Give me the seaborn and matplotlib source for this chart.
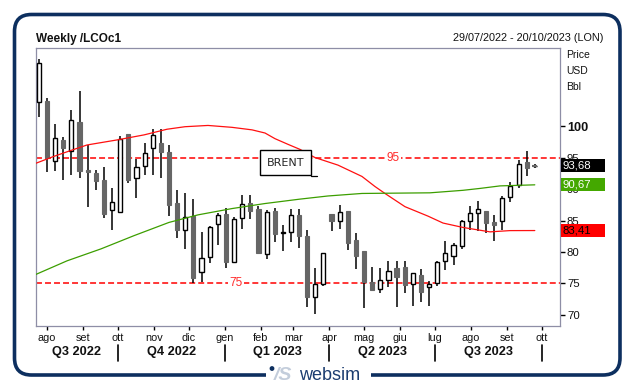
import numpy as np
import pandas as pd
import matplotlib
matplotlib.use('Agg')
import matplotlib.pyplot as plt
import matplotlib.transforms as mtransforms
from matplotlib.patches import FancyBboxPatch, Rectangle, Circle
import seaborn as sns

# weekly Brent candles (week of 25/07/2022 .. week of 25/09/2023)
opens = [103.75, 103.96, 94.39, 97.77, 95.98, 100.63, 93.0, 92.5, 91.4, 86.61,
         86.29, 98.73, 91.69, 93.59, 96.45, 97.25, 95.87, 87.77, 83.54, 85.71,
         76.77, 79.15, 84.44, 86.03, 78.36, 85.34, 87.72, 86.82, 79.63, 86.5,
         83.0, 83.12, 85.87, 82.54, 72.9, 74.86, 86.03, 84.97, 86.5, 81.9,
         80.16, 75.18, 74.07, 75.55, 77.4, 77.56, 74.86, 76.29, 74.39, 75.0,
         78.52, 79.31, 80.95, 84.87, 86.14, 86.5, 84.76, 84.92, 88.79, 90.64,
         94.29, 93.68]
highs = [110.63, 104.39, 100.3, 98.2, 102.5, 105.55, 96.98, 93.0, 93.49, 90.15,
         98.5, 98.73, 94.76, 97.25, 99.47, 99.47, 96.98, 89.84, 89.36, 88.41,
         83.22, 84.12, 86.13, 86.93, 85.5, 89.04, 89.04, 87.35, 86.61, 86.93,
         84.28, 86.82, 86.82, 83.49, 77.4, 79.84, 86.03, 87.46, 86.5, 83.02,
         80.16, 77.56, 77.4, 78.62, 78.62, 78.62, 76.61, 77.3, 75.45, 78.57,
         81.74, 81.37, 85.08, 87.3, 88.15, 86.5, 85.87, 88.94, 91.17, 94.6,
         96.03, 94.0]
lows = [101.48, 92.75, 92.9, 91.5, 92.22, 91.69, 87.19, 89.9, 85.45, 83.49,
        86.29, 91.0, 88.6, 92.22, 92.22, 91.69, 85.76, 82.27, 80.47, 75.02,
        75.18, 78.2, 81.16, 77.51, 78.36, 83.65, 85.29, 79.63, 78.94, 81.64,
        80.21, 81.64, 80.68, 71.32, 70.1, 74.6, 83.38, 83.65, 80.3, 77.3,
        71.16, 73.97, 73.43, 74.5, 71.32, 73.43, 71.48, 72.0, 71.48, 74.6,
        77.14, 77.94, 80.42, 83.49, 83.38, 82.96, 81.8, 83.5, 88.0, 90.11,
        92.07, 93.3]
closes = [109.94, 94.86, 98.04, 96.56, 100.9, 92.9, 92.75, 91.3, 86.08, 87.88,
          97.88, 91.48, 93.44, 95.66, 98.51, 95.92, 87.5, 83.54, 85.5, 75.87,
          79.0, 83.91, 85.87, 78.46, 85.18, 87.56, 86.56, 79.89, 86.29, 82.9,
          83.1, 85.87, 82.59, 72.9, 74.86, 79.84, 84.97, 86.29, 81.48, 79.42,
          75.18, 73.97, 75.55, 76.98, 76.08, 74.76, 76.61, 73.7, 74.87, 78.41,
          79.79, 81.11, 84.87, 86.14, 86.82, 84.66, 84.34, 88.52, 90.5, 93.97,
          93.28, 93.68]

# moving averages (week index, value)
red_weeks = [-0.36, 1.86, 4.32, 5.92, 9.61, 12.93, 15.76, 17.97, 20.8, 23.75,
             26.21, 27.81, 29.04, 30.64, 32.11, 33.96, 36.79, 39.74, 41.34,
             42.57, 45.03, 47.86, 49.71, 52.17, 55.49, 57.95, 61.0]
red_ma = [94.1, 95.2, 96.3, 97.0, 97.8, 98.6, 99.5, 99.9, 100.1, 99.8,
          99.4, 98.9, 98.0, 97.1, 96.3, 95.0, 93.8, 92.0, 90.4,
          89.3, 87.2, 85.7, 84.6, 83.9, 83.2, 83.4, 83.41]
green_weeks = [-0.36, 3.46, 7.64, 11.7, 16.0, 19.57, 23.75, 27.81, 32.11,
               35.56, 39.74, 48.1, 52.17, 54.26, 56.72, 61.0]
green_ma = [76.45, 78.6, 80.5, 82.6, 84.7, 85.9, 86.9, 87.7, 88.4,
            88.9, 89.3, 89.4, 89.8, 90.1, 90.5, 90.67]

levels = [95, 75]
last_values = [93.68, 90.67, 83.41]
last_colors = ['#000000', '#44a800', '#ff0000']
last_text = ['white', 'white', 'black']

month_labels = ['ago', 'set', 'ott', 'nov', 'dic', 'gen', 'feb', 'mar', 'apr',
                'mag', 'giu', 'lug', 'ago', 'set', 'ott']
month_starts = pd.date_range('2022-08-01', '2023-10-01', freq='MS')
quarter_starts = pd.to_datetime(['2022-07-01', '2022-10-01', '2023-01-01',
                                 '2023-04-01', '2023-07-01', '2023-10-01'])
quarter_labels = ['Q3 2022', 'Q4 2022', 'Q1 2023', 'Q2 2023', 'Q3 2023']

start = pd.Timestamp('2022-07-25')
def wk(d):
    return (d - start).days / 7.0

sns.set_style('white')
plt.rcParams['font.family'] = ['Liberation Sans', 'DejaVu Sans']

navy = '#0d2f5f'
fig = plt.figure(figsize=(6.34, 3.9), dpi=100)
bg = fig.add_axes([0, 0, 1, 1])
bg.set_xlim(0, 634)
bg.set_ylim(390, 0)
bg.axis('off')

ax = fig.add_axes([36 / 634, 1 - 326 / 390, 524 / 634, 278 / 390])

o = np.array(opens); h = np.array(highs); l = np.array(lows); c = np.array(closes)
x = np.arange(len(c))
up = c >= o
dn = ~up

# candles
ax.vlines(x, l, h, color='black', lw=1.1, zorder=2)
ax.bar(x[up], (c - o)[up], bottom=o[up], width=0.5, facecolor='white',
       edgecolor='black', lw=1.0, zorder=3)
ax.bar(x[dn], (o - c)[dn], bottom=c[dn], width=0.52, color='#666666',
       edgecolor='#666666', lw=0.8, zorder=3)
doji = np.abs(c - o) < 0.05
ax.hlines(c[doji], x[doji] - 0.3, x[doji] + 0.3, color='#666666', lw=1.5, zorder=3)

# moving averages
red_df = pd.DataFrame({'week': red_weeks, 'ma': red_ma})
green_df = pd.DataFrame({'week': green_weeks, 'ma': green_ma})
sns.lineplot(data=red_df, x='week', y='ma', ax=ax, color='#ff1010', lw=0.9,
             estimator=None, sort=False, zorder=4)
sns.lineplot(data=green_df, x='week', y='ma', ax=ax, color='#3c9e00', lw=0.9,
             estimator=None, sort=False, zorder=4)

label_x = {95: 43.55, 75: 24.24}
for lv in levels:
    ax.axhline(lv, color='#ff0000', lw=1.1, ls=(0, (3.9, 2.0)), zorder=1)
    ax.text(label_x[lv], lv, str(lv), ha='center', va='center', fontsize=8.5,
            color='#ff2a2a', zorder=5,
            bbox=dict(facecolor='white', edgecolor='none', pad=1.0))

# BRENT box
ax.add_patch(Rectangle((27.23, 92.17), 6.27, 4.02, facecolor='white',
                       edgecolor='black', lw=1.0, zorder=5))
ax.text(30.37, 94.18, 'BRENT', ha='center', va='center', fontsize=8,
        family='DejaVu Sans', zorder=6)
ax.plot([33.5, 34.24], [92.0, 92.0], color='black', lw=0.9, zorder=5)

ax.set_xlim(-0.36, 64.1)
ax.set_ylim(68.25, 112.4)
ax.set_xlabel('')
ax.set_ylabel('')

for s in ax.spines.values():
    s.set_color('#8e8ea6')
    s.set_linewidth(0.9)

yt = [70, 75, 80, 85, 90, 95, 100]
ax.yaxis.tick_right()
ax.set_yticks(yt)
ax.set_yticklabels([str(v) for v in yt])
ax.tick_params(axis='y', direction='out', length=3.5, width=1, color='black',
               labelsize=8.2, pad=1.5, right=True, left=False,
               labelright=True, labelleft=False, labelcolor='#111111')
for lbl in ax.get_yticklabels():
    if lbl.get_text() == '100':
        lbl.set_fontsize(9.2)
        lbl.set_fontweight('bold')

ax.set_xticks([wk(d) for d in month_starts])
ax.set_xticklabels(month_labels)
ax.tick_params(axis='x', direction='out', length=3, width=1, color='black',
               labelsize=7.8, pad=2, bottom=True, labelcolor='#111111')

# quarter row
trans = mtransforms.blended_transform_factory(ax.transData, ax.transAxes)
x0, x1 = ax.get_xlim()
for i, lab in enumerate(quarter_labels):
    a = max(wk(quarter_starts[i]), x0)
    b = min(wk(quarter_starts[i + 1]), x1)
    ax.text((a + b) / 2, -0.095, lab, transform=trans, ha='center', va='center',
            fontsize=9.2, fontweight='bold', color='#111111')
for q in quarter_starts[1:]:
    ax.plot([wk(q), wk(q)], [-0.068, -0.126], transform=trans, clip_on=False,
            color='black', lw=1.2)

# last value boxes on the right (they cover the 90/95 tick labels, as in the original)
trans_r = mtransforms.blended_transform_factory(ax.transAxes, ax.transData)
for v, col, tc in zip(last_values, last_colors, last_text):
    ax.add_patch(Rectangle((1.002, v - 1.05), 0.084, 2.1, transform=trans_r,
                           clip_on=False, facecolor=col, edgecolor='none', zorder=7))
    ax.text(1.004, v, f'{v:.2f}'.replace('.', ','), transform=trans_r,
            ha='left', va='center', fontsize=8.2, color=tc, zorder=8, clip_on=False)

# header texts
bg.text(36, 39, 'Weekly /LCOc1', fontsize=8.5, fontweight='bold', ha='left',
        va='center', color='#111111')
bg.text(603, 38, '29/07/2022 - 20/10/2023 (LON)', fontsize=7.8, ha='right',
        va='center', color='#111111')
for yy, t in zip([55, 71, 87], ['Price', 'USD', 'Bbl']):
    bg.text(566, yy, t, fontsize=7.5, ha='left', va='center', color='#111111')

# rounded frame and logo
bg.add_patch(FancyBboxPatch((14.5, 14.5), 605.5, 360.5,
                            boxstyle='round,pad=0,rounding_size=17',
                            fill=False, edgecolor=navy, lw=2.6))
bg.add_patch(Rectangle((266, 368), 105, 14, facecolor='white', edgecolor='none',
                       zorder=3))
bg.add_patch(Circle((272, 368.5), 2.4, facecolor=navy, edgecolor='none', zorder=4))
bg.text(274, 376, '/S', fontsize=14, fontweight='bold', style='italic',
        color='#c3cddb', ha='left', va='center', zorder=4)
bg.text(299, 376, 'websim', fontsize=13, color='#1c3d70', ha='left',
        va='center', zorder=4)

fig.savefig('out.png', dpi=100, facecolor='white')
